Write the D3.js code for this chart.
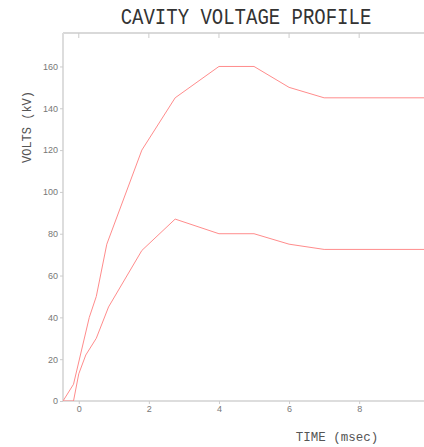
<!DOCTYPE html>
<html>
<head>
<meta charset="utf-8">
<script src="https://cdn.jsdelivr.net/npm/d3@7"></script>
<style>
  body { margin: 0; background: #fff; }
  svg { display: block; }
</style>
</head>
<body>
<svg id="chart" width="424" height="447"></svg>
<script>
// data (time in msec, volts in kV)
var upperTime  = [-0.45, -0.15, 0.3, 0.5, 0.8, 1.8, 2.75, 4, 5, 6, 7, 10];
var upperVolts = [0, 8, 40, 50, 75, 120, 145, 160, 160, 150, 145, 145];
var lowerTime  = [-0.45, -0.15, 0, 0.2, 0.5, 0.85, 1.8, 2.75, 4, 5, 6, 7, 10];
var lowerVolts = [0, 0, 13, 22, 30, 45, 72, 87, 80, 80, 75, 72.5, 72.5];
var xTicks = [0, 2, 4, 6, 8];
var yTicks = [0, 20, 40, 60, 80, 100, 120, 140, 160];

var svg = d3.select('#chart');
// plot box (window.top is read-only, so keep these in an object)
var box = { left: 63, right: 424, top: 33, bottom: 401 };

var x = d3.scaleLinear().domain([-0.45, 9.85]).range([box.left, box.right]);
var y = d3.scaleLinear().domain([0, 176]).range([box.bottom, box.top]);

var tickFont = '"Liberation Sans", sans-serif';
var monoFont = '"Liberation Mono", monospace';

// title
svg.append('text')
  .attr('x', 246)
  .attr('y', 24)
  .attr('text-anchor', 'middle')
  .attr('font-family', monoFont)
  .attr('font-size', 19)
  .attr('fill', '#333')
  .attr('transform', 'translate(0,24) scale(1,1.2) translate(0,-24)')
  .text('CAVITY VOLTAGE PROFILE');

// top frame line with inward ticks
svg.append('line')
  .attr('x1', box.left).attr('x2', box.right)
  .attr('y1', box.top).attr('y2', box.top)
  .attr('stroke', '#ccc').attr('stroke-width', 1.5);
svg.selectAll('.topTick')
  .data(xTicks)
  .enter().append('line')
  .attr('class', 'topTick')
  .attr('x1', function (d) { return x(d); })
  .attr('x2', function (d) { return x(d); })
  .attr('y1', box.top).attr('y2', box.top + 5)
  .attr('stroke', '#ccc');

// axes
var xAxis = d3.axisBottom(x).tickValues(xTicks).tickSize(3).tickPadding(2);
var yAxis = d3.axisLeft(y).tickValues(yTicks).tickSize(3).tickPadding(2);

var gx = svg.append('g').attr('transform', 'translate(0,' + box.bottom + ')').call(xAxis);
var gy = svg.append('g').attr('transform', 'translate(' + box.left + ',0)').call(yAxis);

[gx, gy].forEach(function (g) {
  g.select('.domain').attr('stroke', '#ddd').attr('stroke-width', 2);
  g.selectAll('.tick line').attr('stroke', '#ccc');
  g.selectAll('.tick text')
    .attr('fill', '#777')
    .attr('font-family', tickFont)
    .attr('font-size', 9);
});
gy.select('.domain').attr('d', 'M0,' + box.top + 'V' + box.bottom);
gx.select('.domain').attr('d', 'M' + box.left + ',0H' + box.right);

// axis titles
svg.append('text')
  .attr('transform', 'translate(31,127) rotate(-90)')
  .attr('text-anchor', 'middle')
  .attr('font-family', monoFont)
  .attr('font-size', 12)
  .attr('fill', '#555')
  .text('VOLTS (kV)');

svg.append('text')
  .attr('x', 337)
  .attr('y', 441)
  .attr('text-anchor', 'middle')
  .attr('font-family', monoFont)
  .attr('font-size', 12.5)
  .attr('fill', '#555')
  .text('TIME (msec)');

// curves
var line = d3.line()
  .x(function (d) { return x(d[0]); })
  .y(function (d) { return y(d[1]); });

var series = [d3.zip(upperTime, upperVolts), d3.zip(lowerTime, lowerVolts)];

svg.append('clipPath').attr('id', 'plotClip')
  .append('rect')
  .attr('x', box.left).attr('y', box.top)
  .attr('width', box.right - box.left).attr('height', box.bottom - box.top);

svg.append('g')
  .attr('clip-path', 'url(#plotClip)')
  .selectAll('path')
  .data(series)
  .enter().append('path')
  .attr('d', line)
  .attr('fill', 'none')
  .attr('stroke', '#ff8c8c')
  .attr('stroke-width', 1);
</script>
</body>
</html>
